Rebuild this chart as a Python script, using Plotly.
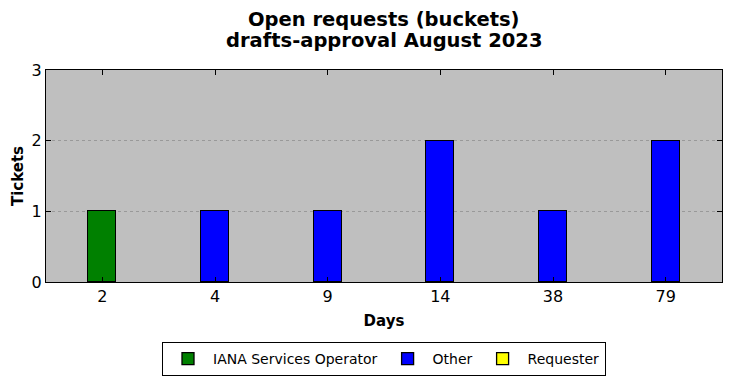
import plotly.graph_objects as go

days = ["2", "4", "9", "14", "38", "79"]
iana = [1, 0, 0, 0, 0, 0]
other = [0, 1, 1, 2, 1, 2]
requester = [0, 0, 0, 0, 0, 0]
title_lines = ["Open requests (buckets)", "drafts-approval August 2023"]

W, H = 731, 378
L, R, T, B = 46, 9, 70, 96
PH = H - T - B
font = "DejaVu Sans"

fig = go.Figure()
for name, vals, col in [("IANA Services Operator", iana, "#008000"),
                        ("Other", other, "#0000ff"),
                        ("Requester", requester, "#ffff00")]:
    fig.add_trace(go.Bar(x=days, y=vals, name=name, width=0.25,
                         marker=dict(color=col, line=dict(color="black", width=1.3))))

for i, txt in enumerate(title_lines):
    fig.add_annotation(text="<b>%s</b>" % txt, xref="paper", yref="paper",
                       x=0.5, xanchor="center", y=1 + (T - 19 - 22 * i) / PH,
                       yanchor="middle", showarrow=False, font=dict(size=19.5))

fig.update_layout(
    width=W, height=H, barmode="stack",
    margin=dict(l=L, r=R, t=T, b=B, autoexpand=False),
    paper_bgcolor="white", plot_bgcolor="#bfbfbf",
    font=dict(family=font, color="black", size=16),
    legend=dict(orientation="h", x=0.5, xanchor="center", y=-60 / PH, yanchor="top",
                bordercolor="black", borderwidth=1, font=dict(size=14),
                traceorder="normal", itemwidth=40),
    showlegend=True,
    bargap=0,
)
fig.update_xaxes(type="category", range=[-0.5, 5.5], showline=True, linecolor="black",
                 linewidth=1.3, mirror="ticks", ticks="inside", ticklen=5, tickcolor="black",
                 title=dict(text="<b>Days</b>", font=dict(size=15), standoff=10),
                 showgrid=False, tickfont=dict(size=16), automargin=False)
fig.update_yaxes(range=[0, 3], tickvals=[0, 1, 2, 3], showline=True, linecolor="black",
                 linewidth=1.3, mirror="ticks", ticks="inside", ticklen=5, tickcolor="black",
                 showgrid=True, gridcolor="#999999", griddash="dot", gridwidth=1,
                 zeroline=False,
                 title=dict(text="<b>Tickets</b>", font=dict(size=15), standoff=4),
                 tickfont=dict(size=16), automargin=False)

fig.write_html("out.html", config={"displayModeBar": False},
               post_script="document.body.style.margin='0';document.body.style.overflow='hidden';")
